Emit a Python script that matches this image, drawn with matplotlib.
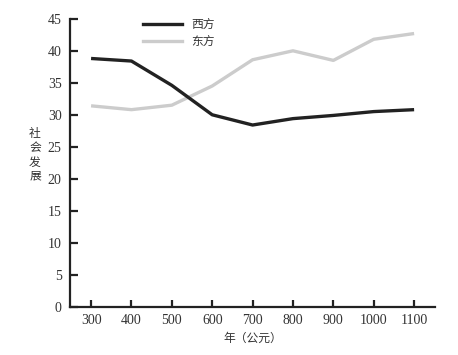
import matplotlib
matplotlib.use("Agg")
import matplotlib.pyplot as plt
from matplotlib.lines import Line2D

years = [300, 400, 500, 600, 700, 800, 900, 1000, 1100]
west = [38.8, 38.4, 34.6, 30.0, 28.4, 29.4, 29.9, 30.5, 30.8]
east = [31.4, 30.8, 31.5, 34.5, 38.6, 40.0, 38.5, 41.8, 42.7]
yticks = [0, 5, 10, 15, 20, 25, 30, 35, 40, 45]
cjk = ['Noto Sans CJK SC', 'DejaVu Sans']

fig = plt.figure(figsize=(4.58, 3.55), dpi=100)
ax = fig.add_axes([0.153, 0.136, 0.797, 0.811])

ax.plot(years, west, color='#222222', lw=2.4, solid_capstyle='butt', zorder=3)
ax.plot(years, east, color='#cccccc', lw=2.4, solid_capstyle='butt', zorder=2)

ax.set_xlim(248, 1152)
ax.set_ylim(0, 45)
ax.set_xticks(years)
ax.set_yticks(yticks)
ax.set_xticklabels([str(y) for y in years], family='Liberation Serif', fontsize=10, color='#333333')
ax.set_yticklabels([str(y) for y in yticks], family='Liberation Serif', fontsize=10, color='#333333')

for s in ['top', 'right']:
    ax.spines[s].set_visible(False)
for s in ['left', 'bottom']:
    ax.spines[s].set_linewidth(1.6)
    ax.spines[s].set_color('#222222')
ax.tick_params(axis='y', direction='in', length=6, width=1.6, pad=6, color='#222222')
ax.tick_params(axis='x', direction='in', length=5, width=1.6, pad=5, color='#222222')

ax.set_xlabel('年（公元）', family=cjk, fontsize=8.5, color='#333333', labelpad=4)
fig.text(35 / 458, 1 - 155 / 355, '社\n会\n发\n展', family=cjk, fontsize=8.5,
         color='#333333', ha='center', va='center', linespacing=1.1)

handles = [Line2D([], [], color='#222222', lw=2.4), Line2D([], [], color='#cccccc', lw=2.4)]
leg = ax.legend(handles, ['西方', '东方'], loc='upper left', bbox_to_anchor=(0.17, 1.04),
                frameon=False, prop={'family': cjk, 'size': 8.5}, handlelength=3.3,
                handletextpad=0.8, labelspacing=0.35)
for t in leg.get_texts():
    t.set_color('#333333')

fig.savefig('out.png', dpi=100)
